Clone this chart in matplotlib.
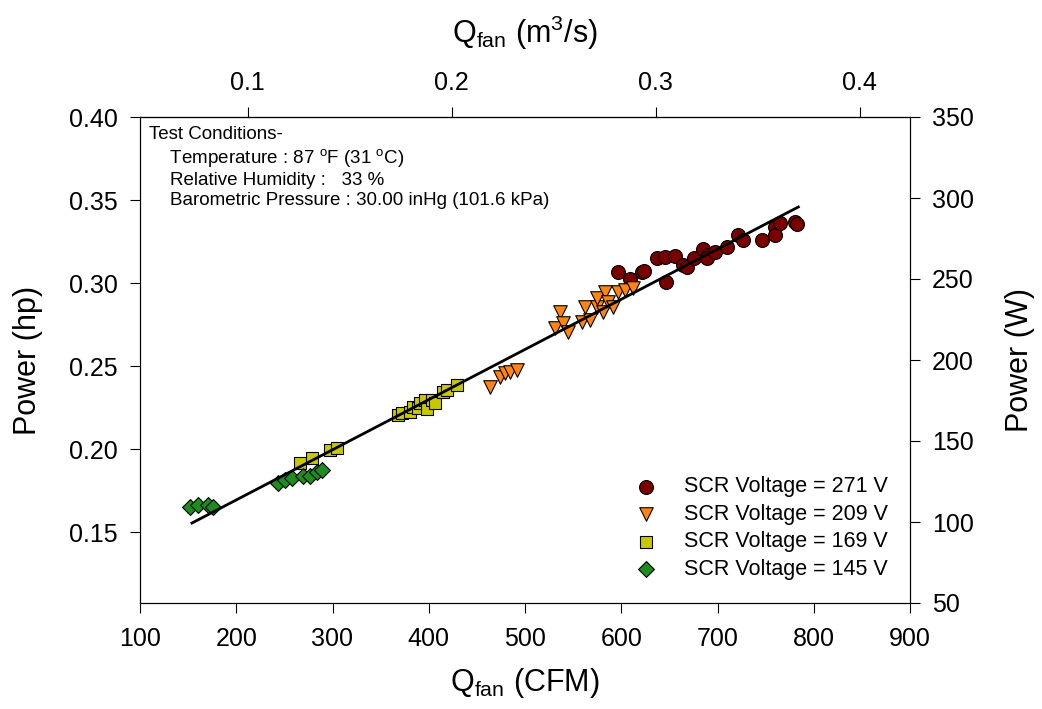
import numpy as np
import matplotlib
matplotlib.use("Agg")
import matplotlib.pyplot as plt

plt.rcParams['font.family'] = ['Liberation Sans', 'DejaVu Sans']
plt.rcParams['mathtext.fontset'] = 'custom'
plt.rcParams['mathtext.rm'] = 'Liberation Sans'
plt.rcParams['mathtext.it'] = 'Liberation Sans:italic'

# Data (CFM, hp)
v271_x = [596.6, 609, 621.6, 624, 637, 645, 655.6, 646.5, 664, 668, 676, 685, 690, 689, 697, 709.9, 721, 727, 746, 759.7, 759.7, 765, 780.5, 782.6]
v271_y = [0.3066, 0.3024, 0.3066, 0.3070, 0.3150, 0.3157, 0.3163, 0.3006, 0.3108, 0.3096, 0.3150, 0.3205, 0.3169, 0.3150, 0.3187, 0.3217, 0.3289, 0.3259, 0.3259, 0.3337, 0.3289, 0.3361, 0.3367, 0.3355]

v209_x = [463.6, 474, 479, 484, 491.7, 531, 536, 539.5, 544.7, 559, 567.5, 562, 574.8, 574.8, 583, 586, 581, 591, 596.6, 604, 612]
v209_y = [0.2373, 0.2434, 0.2458, 0.2464, 0.2476, 0.2729, 0.2825, 0.2759, 0.2705, 0.2765, 0.2777, 0.2855, 0.2855, 0.2910, 0.2946, 0.2886, 0.2825, 0.2855, 0.2946, 0.2958, 0.2970]

v169_x = [266, 279, 297, 304.7, 368, 372, 380.5, 383.6, 389, 391, 396, 398, 403, 406.5, 415, 419, 429]
v169_y = [0.1916, 0.1946, 0.1994, 0.2006, 0.2205, 0.2217, 0.2220, 0.2253, 0.2247, 0.2277, 0.2295, 0.2240, 0.2295, 0.2280, 0.2343, 0.2355, 0.2386]

v145_x = [152, 160, 170.6, 176, 243, 251, 258, 269, 276.6, 284, 289]
v145_y = [0.1650, 0.1663, 0.1663, 0.1650, 0.1795, 0.1813, 0.1825, 0.1840, 0.1840, 0.1860, 0.1874]

fit_x = [154, 784]
fit_y = [0.1554, 0.3458]

series = [
    (v271_x, v271_y, 'o', '#7a0000', 'SCR Voltage = 271 V', 100),
    (v209_x, v209_y, 'v', '#ff8410', 'SCR Voltage = 209 V', 95),
    (v169_x, v169_y, 's', '#c8c800', 'SCR Voltage = 169 V', 75),
    (v145_x, v145_y, 'D', '#1e8c1e', 'SCR Voltage = 145 V', 65),
]

fig = plt.figure(figsize=(10.42, 7.09), dpi=100)
ax = fig.add_axes([140/1042, 1-603/709, 770/1042, 486/709])

ax.plot(fit_x, fit_y, color='black', lw=2, zorder=3)
for xs, ys, m, c, lab, s in series:
    ax.scatter(xs, ys, marker=m, s=s, facecolor=c, edgecolor='black', linewidths=0.8, label=lab, zorder=2)

TICK = 18
LAB = 22
ax.set_xlim(100, 900)
ax.set_ylim(0.40 - 486/1660, 0.40)
ax.set_xticks([100, 200, 300, 400, 500, 600, 700, 800, 900])
ax.set_yticks([0.15, 0.20, 0.25, 0.30, 0.35, 0.40])
ax.set_yticklabels(['0.15', '0.20', '0.25', '0.30', '0.35', '0.40'])
ax.tick_params(axis='x', direction='out', length=7, labelsize=TICK, pad=10)
ax.tick_params(axis='y', direction='out', length=7, labelsize=TICK, pad=9)
ax.set_xlabel(r'Q$_{\mathrm{fan}}$ (CFM)', fontsize=LAB, labelpad=11)
ax.set_ylabel('Power (hp)', fontsize=LAB, labelpad=19)

ax2 = ax.twinx()
ax2.set_ylim(50, 350)
ax2.set_yticks([50, 100, 150, 200, 250, 300, 350])
ax2.tick_params(direction='out', length=7, labelsize=TICK, pad=9)
ax2.set_ylabel('Power (W)', fontsize=LAB, labelpad=22)

conv = 0.000471947
sec = ax.secondary_xaxis('top', functions=(lambda x: x * conv, lambda x: x / conv))
sec.set_xticks([0.1, 0.2, 0.3, 0.4])
sec.tick_params(direction='out', length=7, labelsize=TICK, pad=9)
sec.set_xlabel(r'Q$_{\mathrm{fan}}$ (m$^3$/s)', fontsize=LAB, labelpad=20)

txt = ('Test Conditions-\n'
       '    Temperature : 87 $^{\\mathrm{o}}$F (31 $^{\\mathrm{o}}$C)\n'
       '    Relative Humidity :   33 %\n'
       '    Barometric Pressure : 30.00 inHg (101.6 kPa)')
ax.text(0.012, 0.982, txt, transform=ax.transAxes, va='top', ha='left', fontsize=13.5, linespacing=1.25)

ax.legend(loc='lower right', frameon=False, fontsize=15.5, handletextpad=0.8, labelspacing=0.3,
          bbox_to_anchor=(0.997, 0.008), scatterpoints=1)

fig.savefig('out.png', dpi=100)
